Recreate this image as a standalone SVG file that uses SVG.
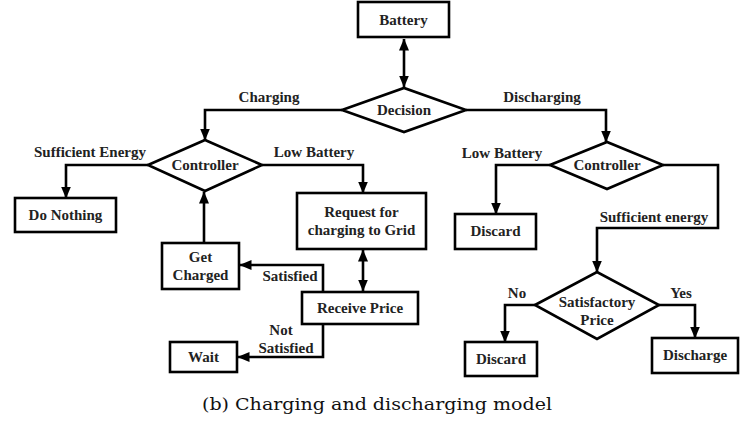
<svg xmlns="http://www.w3.org/2000/svg" width="756" height="421" viewBox="0 0 756 421">
<style>
.box{fill:#fff;stroke:#000;stroke-width:2.6}
.t{font-family:'Liberation Serif',Tinos,'Nimbus Roman','DejaVu Serif',serif;font-weight:700;font-size:15px;fill:#222;text-anchor:middle}
.ln{fill:none;stroke:#000;stroke-width:2.6}
.cap{font-family:'DejaVu Serif','Liberation Serif',serif;font-size:17px;fill:#111;text-anchor:middle}
</style>
<defs>
<marker id="ah" markerUnits="userSpaceOnUse" markerWidth="12" markerHeight="12" viewBox="0 0 12 10" refX="11.5" refY="5" orient="auto-start-reverse">
<path d="M0,0 L12,5 L0,10 z" fill="#000"/>
</marker>
</defs>
<rect width="756" height="421" fill="#fff"/>
<g id="connectors">
<line class="ln" x1="404" y1="39" x2="404" y2="87" marker-start="url(#ah)" marker-end="url(#ah)"/>
<polyline class="ln" points="342,110 205,110 205,140" marker-end="url(#ah)"/>
<polyline class="ln" points="466,110 606,110 606,142" marker-end="url(#ah)"/>
<polyline class="ln" points="148,165 66,165 66,198" marker-end="url(#ah)"/>
<polyline class="ln" points="262,165 363,165 363,193" marker-end="url(#ah)"/>
<line class="ln" x1="204" y1="243" x2="204" y2="192" marker-end="url(#ah)"/>
<line class="ln" x1="363" y1="250" x2="363" y2="291" marker-start="url(#ah)" marker-end="url(#ah)"/>
<polyline class="ln" points="323,292 323,265 240,265" marker-end="url(#ah)"/>
<polyline class="ln" points="323,324 323,357 238,357" marker-end="url(#ah)"/>
<polyline class="ln" points="550,165 496,165 496,214" marker-end="url(#ah)"/>
<polyline class="ln" points="663,165 718,165 718,228 597,228 597,272" marker-end="url(#ah)"/>
<polyline class="ln" points="535,305 505,305 505,342" marker-end="url(#ah)"/>
<polyline class="ln" points="659,305 695,305 695,338" marker-end="url(#ah)"/>
<text class="t" x="269" y="102">Charging</text>
<text class="t" x="542" y="102">Discharging</text>
<text class="t" x="90" y="157">Sufficient Energy</text>
<text class="t" x="314" y="157">Low Battery</text>
<text class="t" x="502" y="158">Low Battery</text>
<text class="t" x="654" y="222">Sufficient energy</text>
<text class="t" x="290" y="281">Satisfied</text>
<text class="t" x="281" y="335">Not</text>
<text class="t" x="286" y="353">Satisfied</text>
<text class="t" x="517" y="298">No</text>
<text class="t" x="681" y="298">Yes</text>
</g>
<g id="battery"><rect class="box" x="358" y="2" width="91" height="35"/><text class="t" x="403.5" y="25">Battery</text></g>
<g id="decision"><polygon class="box" points="342,110 404,88 466,110 404,132"/><text class="t" x="404" y="115">Decision</text></g>
<g id="controller-left"><polygon class="box" points="148,165 205,140 262,165 205,191"/><text class="t" x="205" y="170">Controller</text></g>
<g id="do-nothing"><rect class="box" x="15" y="198" width="101" height="34"/><text class="t" x="65.5" y="220">Do Nothing</text></g>
<g id="request"><rect class="box" x="297" y="193" width="129" height="56"/><text class="t" x="361.5" y="217">Request for</text><text class="t" x="361.5" y="235">charging to Grid</text></g>
<g id="get-charged"><rect class="box" x="162" y="243" width="77" height="46"/><text class="t" x="200.5" y="262">Get</text><text class="t" x="200.5" y="280">Charged</text></g>
<g id="receive-price"><rect class="box" x="302" y="292" width="116" height="32"/><text class="t" x="360" y="313">Receive Price</text></g>
<g id="wait"><rect class="box" x="170" y="342" width="67" height="30"/><text class="t" x="203.5" y="362">Wait</text></g>
<g id="controller-right"><polygon class="box" points="550,165 607,142 663,165 607,189"/><text class="t" x="607" y="170">Controller</text></g>
<g id="discard-1"><rect class="box" x="455" y="214" width="81" height="35"/><text class="t" x="495.5" y="236">Discard</text></g>
<g id="satisfactory-price"><polygon class="box" points="535,305 597,272 659,305 597,339"/><text class="t" x="597" y="307">Satisfactory</text><text class="t" x="597" y="325">Price</text></g>
<g id="discard-2"><rect class="box" x="465" y="342" width="72" height="34"/><text class="t" x="501" y="364">Discard</text></g>
<g id="discharge"><rect class="box" x="652" y="338" width="86" height="35"/><text class="t" x="695" y="360">Discharge</text></g>
<text class="cap" x="377" y="410" textLength="350" lengthAdjust="spacingAndGlyphs">(b) Charging and discharging model</text>
</svg>
